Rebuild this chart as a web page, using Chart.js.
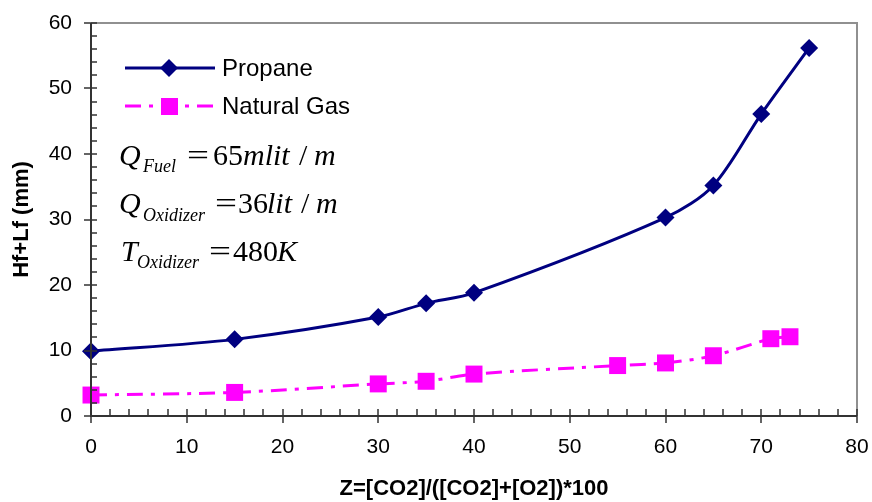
<!DOCTYPE html>
<html>
<head>
<meta charset="utf-8">
<script src="https://cdn.jsdelivr.net/npm/chart.js@4"></script>
<style>
  body { margin: 0; background: #fff; }
  #wrap { width: 872px; height: 502px; }
</style>
</head>
<body>
<div id="wrap"><canvas id="chart"></canvas></div>
<script>
// data
const propaneZ = [0, 15, 30, 35, 40, 60, 65, 70, 75];
const propaneH = [9.9, 11.7, 15.1, 17.2, 18.8, 30.3, 35.2, 46.1, 56.2];
const gasZ = [0, 15, 30, 35, 40, 55, 60, 65, 71, 73];
const gasH = [3.2, 3.6, 4.9, 5.3, 6.4, 7.7, 8.1, 9.2, 11.8, 12.1];

const xMin = 0, xMax = 80, xStep = 10;
const yMin = 0, yMax = 60, yStep = 10;

const sans = '"Liberation Sans", Arial, sans-serif';
const serif = '"Liberation Serif", "Times New Roman", serif';
const navy = '#000080';
const pink = '#ff00ff';

const toPoints = (xs, ys) => xs.map((x, i) => ({ x: x, y: ys[i] }));

// axis box, tick marks, legend and the equations
const decor = {
    id: 'decor',
    afterDraw(c) {
        const ctx = c.ctx;
        const a = c.chartArea;
        const sx = c.scales.x, sy = c.scales.y;
        ctx.save();

        ctx.strokeStyle = '#909090';
        ctx.lineWidth = 2;
        ctx.beginPath();
        ctx.moveTo(a.left, a.top);
        ctx.lineTo(a.right, a.top);
        ctx.lineTo(a.right, a.bottom);
        ctx.stroke();

        ctx.strokeStyle = '#333';
        ctx.lineWidth = 2;
        ctx.beginPath();
        ctx.moveTo(a.left, a.top);
        ctx.lineTo(a.left, a.bottom);
        ctx.lineTo(a.right, a.bottom);
        ctx.stroke();

        ctx.lineWidth = 1.5;
        ctx.beginPath();
        for (let v = yMin; v <= yMax; v += 2) {
            const y = Math.round(sy.getPixelForValue(v));
            const major = v % yStep === 0;
            ctx.moveTo(a.left - (major ? 7 : 0), y);
            ctx.lineTo(a.left + 6, y);
        }
        for (let v = xMin; v <= xMax; v += 2) {
            const x = Math.round(sx.getPixelForValue(v));
            const major = v % xStep === 0;
            ctx.moveTo(x, a.bottom - 7);
            ctx.lineTo(x, a.bottom + (major ? 7 : 0));
        }
        ctx.stroke();

        // legend
        ctx.lineWidth = 3;
        ctx.strokeStyle = navy;
        ctx.beginPath();
        ctx.moveTo(125, 68);
        ctx.lineTo(215, 68);
        ctx.stroke();
        ctx.fillStyle = navy;
        ctx.beginPath();
        ctx.moveTo(169, 59);
        ctx.lineTo(178, 68);
        ctx.lineTo(169, 77);
        ctx.lineTo(160, 68);
        ctx.closePath();
        ctx.fill();

        ctx.strokeStyle = pink;
        ctx.setLineDash([16, 8, 4, 8]);
        ctx.beginPath();
        ctx.moveTo(125, 106);
        ctx.lineTo(215, 106);
        ctx.stroke();
        ctx.setLineDash([]);
        ctx.fillStyle = pink;
        ctx.fillRect(161, 98, 17, 17);

        ctx.fillStyle = '#000';
        ctx.font = '24px ' + sans;
        ctx.textBaseline = 'middle';
        ctx.fillText('Propane', 222, 69);
        ctx.fillText('Natural Gas', 222, 107);

        // equations
        ctx.textBaseline = 'alphabetic';
        const big = s => ctx.font = (s ? 'italic ' : '') + '30px ' + serif;
        const sub = () => ctx.font = 'italic 18px ' + serif;
        const put = (t, x, y) => ctx.fillText(t, x, y);
        const eq = (x, y) => {
            ctx.save();
            ctx.font = '30px ' + serif;
            ctx.translate(x, y);
            ctx.scale(1.3, 1);
            ctx.fillText('=', 0, 0);
            ctx.restore();
        };

        big(true); put('Q', 119, 165);
        sub(); put('Fuel', 143, 172);
        eq(187, 165);
        big(false); put('65', 213, 165);
        big(true); put('mlit', 243, 165);
        big(false); put('/', 299, 165);
        big(true); put('m', 314, 165);

        big(true); put('Q', 119, 213);
        sub(); put('Oxidizer', 143, 221);
        eq(215, 213);
        big(false); put('36', 238, 213);
        big(true); put('lit', 267, 213);
        big(false); put('/', 301, 213);
        big(true); put('m', 316, 213);

        big(true); put('T', 121, 261);
        sub(); put('Oxidizer', 137, 268);
        eq(209, 261);
        big(false); put('480', 233, 261);
        big(true); put('K', 277, 261);

        ctx.restore();
    }
};

new Chart(document.querySelector('#chart'), {
    type: 'scatter',
    data: {
        datasets: [
            {
                label: 'Propane',
                data: toPoints(propaneZ, propaneH),
                showLine: true,
                borderColor: navy,
                backgroundColor: navy,
                borderWidth: 3,
                tension: 0.3,
                pointStyle: 'rectRot',
                pointRadius: 9,
                pointBorderWidth: 0,
                clip: false
            },
            {
                label: 'Natural Gas',
                data: toPoints(gasZ, gasH),
                showLine: true,
                borderColor: pink,
                backgroundColor: pink,
                borderWidth: 3,
                borderDash: [16, 8, 4, 8],
                tension: 0.3,
                pointStyle: 'rect',
                pointRadius: 12,
                pointBorderWidth: 0,
                clip: false
            }
        ]
    },
    options: {
        responsive: true,
        maintainAspectRatio: false,
        animation: false,
        layout: { padding: { top: 23, right: 15, left: 0, bottom: 0 } },
        plugins: {
            legend: { display: false },
            tooltip: { enabled: false }
        },
        scales: {
            x: {
                type: 'linear',
                min: xMin,
                max: xMax,
                grid: { display: false, drawTicks: false },
                border: { display: false },
                ticks: { stepSize: xStep, color: '#000', padding: 19, font: { family: sans, size: 21 } },
                title: {
                    display: true,
                    text: 'Z=[CO2]/([CO2]+[O2])*100',
                    color: '#000',
                    padding: { top: 0, bottom: 0 },
                    font: { family: sans, size: 22, weight: 'bold' }
                },
                afterFit: s => { s.height = 86; s.paddingLeft = 0; s.paddingRight = 0; }
            },
            y: {
                min: yMin,
                max: yMax,
                grid: { display: false, drawTicks: false },
                border: { display: false },
                ticks: { stepSize: yStep, color: '#000', padding: 19, font: { family: sans, size: 21 } },
                title: {
                    display: true,
                    text: 'Hf+Lf (mm)',
                    color: '#000',
                    padding: { top: 9, bottom: 0 },
                    font: { family: sans, size: 22, weight: 'bold' }
                },
                afterFit: s => { s.width = 91; s.paddingTop = 0; s.paddingBottom = 0; }
            }
        }
    },
    plugins: [decor]
});
</script>
</body>
</html>
